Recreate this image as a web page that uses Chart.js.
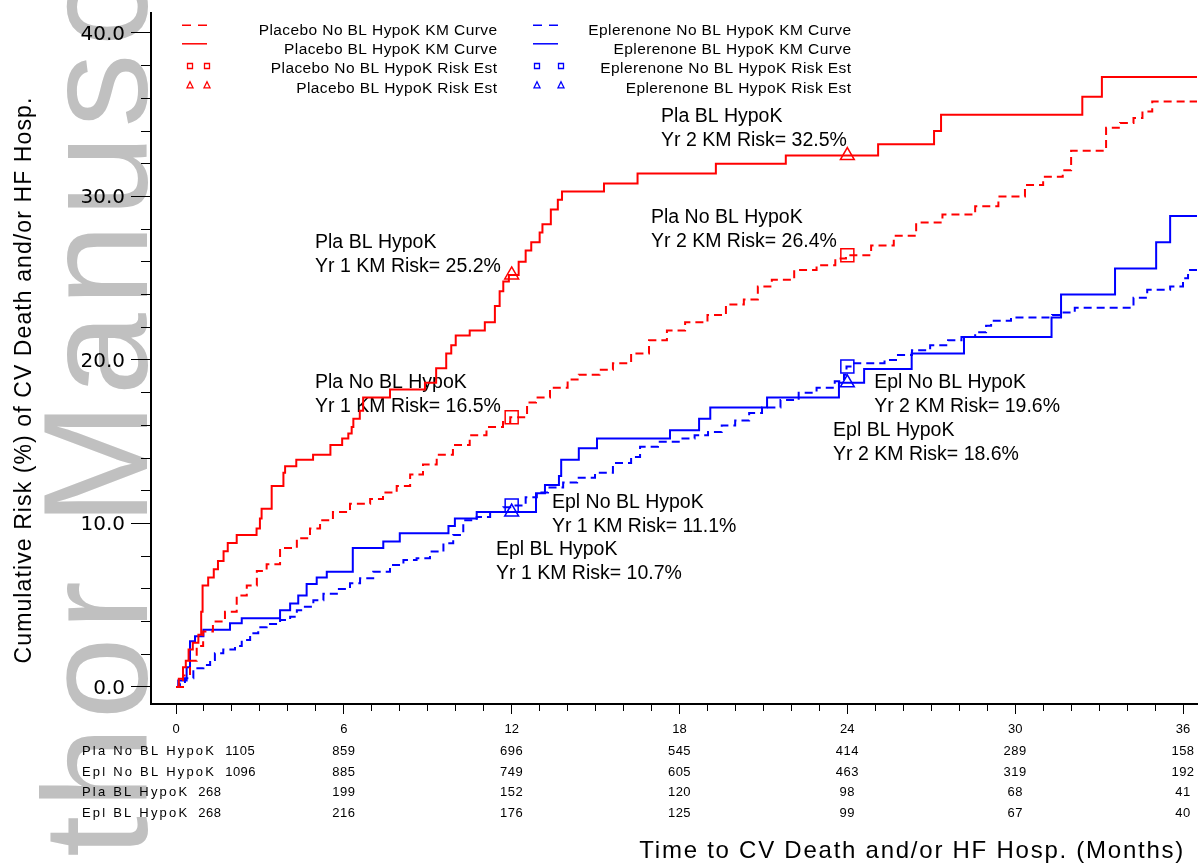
<!DOCTYPE html>
<html><head><meta charset="utf-8">
<script src="https://cdn.jsdelivr.net/npm/chart.js@4/dist/chart.umd.min.js"></script>
<style>html,body{margin:0;padding:0;background:#fff;overflow:hidden}canvas{display:block}</style>
</head><body>
<canvas id="c" width="1198" height="864"></canvas>
<script>
// ---------------- DATA ----------------
const plaNoMonths = [0,0.25,0.5,0.74,0.97,1.32,1.75,2.17,2.53,2.89,3.24,3.72,4.32,4.79,5.15,5.61,6.22,6.94,7.4,7.89,8.37,8.83,9.32,9.9,10.5,11.1,11.69,11.95,12.55,12.87,13.37,14.0,14.4,15.14,15.62,16.27,16.91,17.55,18.2,19.0,19.66,20.3,20.8,21.3,22.1,22.9,23.57,23.95,24.85,25.66,26.46,27.4,28.57,29.4,30.35,31.0,31.7,32.0,33.25,33.75,34.23,34.55,34.9,36.5];
const plaNoRisk   = [0,0.7,1.6,2.5,3.4,4.0,4.6,5.6,6.2,7.1,7.5,8.5,9.1,9.7,10.2,10.7,11.2,11.5,11.9,12.3,13.0,13.6,14.2,14.8,15.4,15.9,16.2,16.5,17.4,17.7,18.3,18.8,19.1,19.4,19.8,20.4,21.2,21.8,22.3,22.75,23.4,23.7,24.5,24.9,25.5,25.8,26.2,26.4,27.0,27.6,28.4,28.9,29.4,30.0,30.7,31.2,31.6,32.8,34.2,34.5,34.8,35.2,35.8,35.8];

const plaBLMonths = [0,0.1,0.25,0.35,0.45,0.6,0.8,0.9,0.95,1.15,1.35,1.5,1.7,1.85,2.17,2.88,3.0,3.06,3.42,3.84,3.9,4.3,4.9,5.52,5.94,6.16,6.28,6.34,6.57,6.69,7.65,8.9,9.3,9.66,9.84,10.0,10.5,11.04,11.4,11.57,11.7,11.9,12.25,12.5,12.7,13.0,13.1,13.4,13.65,13.8,15.3,16.5,19.3,21.8,25.1,27.1,27.35,32.4,33.1,36.5];
const plaBLRisk   = [0,0.5,1.2,1.6,2.3,2.7,3.2,4.6,6.2,6.7,7.2,7.7,8.3,8.8,9.3,9.7,10.3,10.9,12.3,13.1,13.5,13.9,14.2,14.8,15.2,15.5,15.9,16.4,16.9,17.7,18.2,18.6,19.5,20.4,20.9,21.5,21.8,22.3,23.3,24.2,24.8,25.2,26.0,26.7,27.2,27.8,28.3,29.2,29.8,30.3,30.8,31.4,32.0,32.5,33.2,34.0,35.0,36.1,37.3,37.3];

const eplNoMonths = [0,0.14,0.32,0.62,0.98,1.22,1.39,1.69,2.11,2.35,2.65,2.94,3.24,3.72,4.08,4.32,4.55,4.91,5.27,5.75,6.22,6.58,7.05,7.65,8.13,8.6,9.08,9.56,9.91,10.27,10.75,11.23,11.7,11.95,12.5,12.9,13.3,13.84,14.34,14.98,15.62,16.27,16.59,17.23,18.06,18.54,19.02,19.51,19.99,20.49,20.95,21.61,22.26,22.9,23.55,23.88,23.97,24.2,25.33,25.81,26.31,26.96,27.6,28.08,28.57,28.96,29.14,29.85,31.32,31.64,32.13,34.23,34.72,35.54,36.0,36.18,36.5];
const eplNoRisk   = [0,0.23,0.53,1.14,1.35,1.65,2.07,2.3,2.5,2.87,3.28,3.65,3.85,4.1,4.3,4.7,4.9,5.3,5.7,6.0,6.34,6.65,7.05,7.46,7.77,7.87,8.28,8.79,9.3,10.2,10.4,10.7,11.0,11.1,11.6,11.9,12.2,12.5,12.8,13.1,13.7,14.07,14.7,15.0,15.2,15.4,15.6,16.0,16.3,16.75,17.1,17.55,18.0,18.3,18.7,19.1,19.6,19.8,20.0,20.3,20.6,20.9,21.2,21.4,21.7,22.1,22.4,22.6,22.75,22.9,23.2,23.8,24.3,24.5,25.0,25.5,25.5];

const eplBLMonths = [0,0.08,0.38,0.5,0.68,0.98,1.93,2.35,3.72,4.08,4.37,4.67,5.03,5.39,6.32,7.41,8.0,9.74,9.97,10.75,12.87,13.19,13.69,13.77,14.4,15.05,17.66,18.7,19.1,21.13,23.7,24.6,26.3,28.17,31.3,31.64,33.57,35.04,35.54,36.5];
const eplBLRisk   = [0,0.4,1.2,2.8,3.1,3.5,3.9,4.2,4.7,5.1,5.6,6.3,6.7,7.05,8.5,8.9,9.4,9.85,10.3,10.7,11.85,12.35,12.9,13.9,14.6,15.2,15.7,16.4,17.1,17.7,18.6,19.45,20.4,21.4,22.6,24.0,25.6,27.2,28.8,28.8];

const riskEstMonths = [12, 24];
const plaNoRiskEst = [16.5, 26.4];
const plaBLRiskEst = [25.2, 32.5];
const eplNoRiskEst = [11.1, 19.6];
const eplBLRiskEst = [10.7, 18.6];

const seriesLabels = [
  'Placebo No BL HypoK KM Curve','Placebo BL HypoK KM Curve',
  'Placebo No BL HypoK Risk Est','Placebo BL HypoK Risk Est',
  'Eplerenone No BL HypoK KM Curve','Eplerenone BL HypoK KM Curve',
  'Eplerenone No BL HypoK Risk Est','Eplerenone BL HypoK Risk Est'
];

const atRiskMonths = [0, 6, 12, 18, 24, 30, 36];
const atRiskLabels = ['Pla No BL HypoK', 'Epl No BL HypoK', 'Pla BL HypoK', 'Epl BL HypoK'];
const atRiskPlaNo = [1105, 859, 696, 545, 414, 289, 158];
const atRiskEplNo = [1096, 885, 749, 605, 463, 319, 192];
const atRiskPlaBL = [268, 199, 152, 120, 98, 68, 41];
const atRiskEplBL = [268, 216, 176, 125, 99, 67, 40];

const annotGroups = ['Pla BL HypoK','Pla No BL HypoK','Pla BL HypoK','Pla No BL HypoK','Epl No BL HypoK','Epl BL HypoK','Epl No BL HypoK','Epl BL HypoK'];
const annotYears  = [1, 1, 2, 2, 2, 2, 1, 1];
const annotValues = ['25.2','16.5','32.5','26.4','19.6','18.6','11.1','10.7'];

const yAxisTitle = 'Cumulative Risk (%) of CV Death and/or HF Hosp.';
const xAxisTitle = 'Time to CV Death and/or HF Hosp. (Months)';
const watermarkText = 'Author Manuscript';

// ---------------- STYLE / LAYOUT ----------------
const RED = '#ff0000', BLUE = '#0000ff';
const FONT = "'Liberation Sans', Arial, Helvetica, sans-serif";
const X_MIN = -0.894, X_MAX = 36.536, Y_MIN = -1.04, Y_MAX = 41.22;
const annotPos = [[4.97,27.16],[4.97,18.59],[17.34,34.86],[16.98,28.69],[24.96,18.59],[23.49,15.66],[13.44,11.25],[11.44,8.38]];

function pts(xs, ys){ return xs.map((x,i)=>({x:x, y:ys[i]})); }
function setLS(ctx, px){ if ('letterSpacing' in ctx) ctx.letterSpacing = px + 'px'; }

const lineDS = (label, xs, ys, color, dashed) => ({
  label, data: pts(xs, ys), borderColor: color, backgroundColor: color,
  borderWidth: 2, borderDash: dashed ? [8,5] : [], stepped: 'before',
  pointRadius: 0, fill: false, tension: 0
});
const estDS = (label, ys, color, style) => ({
  label, data: pts(riskEstMonths, ys), showLine: false,
  pointStyle: style, pointRadius: style === 'rect' ? 9.2 : 8,
  pointBorderColor: color, pointBackgroundColor: 'rgba(0,0,0,0)', pointBorderWidth: 1.5,
  borderColor: color
});

const datasets = [
  lineDS(seriesLabels[0], plaNoMonths, plaNoRisk, RED, true),
  lineDS(seriesLabels[1], plaBLMonths, plaBLRisk, RED, false),
  estDS(seriesLabels[2], plaNoRiskEst, RED, 'rect'),
  estDS(seriesLabels[3], plaBLRiskEst, RED, 'triangle'),
  lineDS(seriesLabels[4], eplNoMonths, eplNoRisk, BLUE, true),
  lineDS(seriesLabels[5], eplBLMonths, eplBLRisk, BLUE, false),
  estDS(seriesLabels[6], eplNoRiskEst, BLUE, 'rect'),
  estDS(seriesLabels[7], eplBLRiskEst, BLUE, 'triangle')
];

// ---------------- PLUGINS ----------------
const bgPlugin = {
  id: 'bg',
  beforeDraw(chart){
    const ctx = chart.ctx;
    ctx.save();
    ctx.fillStyle = '#fff'; ctx.fillRect(0,0,chart.width,chart.height);
    ctx.translate(147, 1052); ctx.rotate(-Math.PI/2);
    ctx.font = '148px ' + FONT; setLS(ctx, 7);
    ctx.fillStyle = '#c0c0c0'; ctx.textAlign = 'left'; ctx.textBaseline = 'alphabetic';
    ctx.fillText(watermarkText, 0, 0);
    ctx.restore();
  }
};

const annotPlugin = {
  id: 'annot',
  beforeDatasetsDraw(chart){
    const ctx = chart.ctx, xs = chart.scales.x, ys = chart.scales.y;
    ctx.save();
    ctx.font = '19.5px ' + FONT; ctx.fillStyle = '#000';
    ctx.textAlign = 'left'; ctx.textBaseline = 'middle';
    annotGroups.forEach((g,i)=>{
      const px = xs.getPixelForValue(annotPos[i][0]);
      const py = ys.getPixelForValue(annotPos[i][1]);
      ctx.fillText(g, px, py);
      ctx.fillText('Yr ' + annotYears[i] + ' KM Risk= ' + annotValues[i] + '%', px, py + 24);
    });
    ctx.restore();
  }
};

function drawMarker(ctx, kind, x, y, color){
  ctx.strokeStyle = color; ctx.lineWidth = 1.3; ctx.setLineDash([]);
  ctx.beginPath();
  if (kind === 'rect') { ctx.rect(x-2.5, y-2.5, 5, 5); }
  else { ctx.moveTo(x, y-3.5); ctx.lineTo(x+3, y+2.5); ctx.lineTo(x-3, y+2.5); ctx.closePath(); }
  ctx.stroke();
}

const overlayPlugin = {
  id: 'overlay',
  afterDraw(chart){
    const ctx = chart.ctx, xs = chart.scales.x;
    ctx.save();
    const cols = [
      {s0:182, s1:207, m:[190,207], tr:497},
      {s0:533, s1:558, m:[537,561], tr:851}
    ];
    const rowY = [30.7, 49.3, 69, 88.3];
    chart.data.datasets.forEach((ds, i) => {
      const c = cols[i < 4 ? 0 : 1], r = i % 4, y = rowY[r];
      const color = ds.borderColor;
      if (r < 2) {
        ctx.strokeStyle = color; ctx.lineWidth = 1.5;
        ctx.setLineDash(r === 0 ? [9,7] : []);
        ctx.beginPath(); ctx.moveTo(c.s0, y-5.5); ctx.lineTo(c.s1, y-5.5); ctx.stroke();
        ctx.setLineDash([]);
      } else {
        c.m.forEach(mx => drawMarker(ctx, r === 2 ? 'rect' : 'tri', mx, y-3, color));
      }
      ctx.fillStyle = '#000'; ctx.font = '15.5px ' + FONT; setLS(ctx, 0.4);
      ctx.textAlign = 'right'; ctx.textBaseline = 'middle';
      ctx.fillText(ds.label, c.tr + 0.4, y);
      setLS(ctx, 0);
    });
    ctx.fillStyle = '#000';
    ctx.save();
    ctx.translate(31, 380); ctx.rotate(-Math.PI/2);
    ctx.font = '23px ' + FONT; setLS(ctx, 1.1);
    ctx.textAlign = 'center'; ctx.textBaseline = 'alphabetic';
    ctx.fillText(yAxisTitle, 0, 0);
    ctx.restore();
    ctx.font = '24px ' + FONT; setLS(ctx, 1.75);
    ctx.textAlign = 'right'; ctx.textBaseline = 'middle';
    ctx.fillText(xAxisTitle, 1185, 851);
    setLS(ctx, 0);
    const rows = [atRiskPlaNo, atRiskEplNo, atRiskPlaBL, atRiskEplBL];
    const tY = [751, 772, 792.5, 813];
    ctx.font = '13px ' + FONT; ctx.textBaseline = 'middle';
    rows.forEach((vals, r) => {
      setLS(ctx, 2.2); ctx.textAlign = 'left';
      ctx.fillText(atRiskLabels[r], 82, tY[r]);
      const w = ctx.measureText(atRiskLabels[r]).width;
      setLS(ctx, 0.5);
      ctx.fillText(String(vals[0]), 82 + w + 9, tY[r]);
      ctx.textAlign = 'center';
      for (let k = 1; k < atRiskMonths.length; k++) {
        ctx.fillText(String(vals[k]), xs.getPixelForValue(atRiskMonths[k]), tY[r]);
      }
    });
    setLS(ctx, 0);
    ctx.restore();
  }
};

// ---------------- CHART ----------------
new Chart(document.getElementById('c'), {
  type: 'line',
  data: { datasets },
  options: {
    responsive: false, animation: false, devicePixelRatio: 1,
    layout: { autoPadding: false, padding: { top: 13, right: 0, left: 0, bottom: 0 } },
    plugins: { legend: { display: false }, tooltip: { enabled: false }, title: { display: false } },
    scales: {
      x: {
        type: 'linear', min: X_MIN, max: X_MAX,
        afterFit(s){ s.height = 160; s.paddingLeft = 0; s.paddingRight = 0; },
        border: { display: true, color: '#000', width: 2 },
        grid: {
          drawOnChartArea: false, drawTicks: true, tickLength: 10, tickColor: '#000', tickWidth: 1,
          tickBorderDash: c => (c.tick && c.tick.value % 6 === 0) ? [] : [6, 30]
        },
        ticks: {
          stepSize: 1, autoSkip: false, maxRotation: 0, minRotation: 0, includeBounds: false,
          maxTicksLimit: 200, color: '#000', padding: 8, font: { family: FONT, size: 13 },
          callback: v => (v % 6 === 0 ? String(v) : '')
        }
      },
      y: {
        type: 'linear', min: Y_MIN, max: Y_MAX,
        afterFit(s){ s.width = 151; s.paddingTop = 0; s.paddingBottom = 0; },
        border: { display: true, color: '#000', width: 2 },
        grid: {
          drawOnChartArea: false, drawTicks: true, tickLength: 20, tickColor: '#000', tickWidth: 1,
          tickBorderDash: c => (c.tick && c.tick.value % 10 === 0) ? [] : [10, 10],
          tickBorderDashOffset: c => (c.tick && c.tick.value % 10 === 0) ? 0 : 10
        },
        ticks: {
          stepSize: 2, autoSkip: false, includeBounds: false, maxTicksLimit: 200, labelOffset: 1.5,
          color: '#000', padding: 6, font: { family: "'DejaVu Sans', sans-serif", size: 20 },
          callback: v => (v % 10 === 0 ? v.toFixed(1) : '')
        }
      }
    }
  },
  plugins: [bgPlugin, annotPlugin, overlayPlugin]
});
</script>
</body></html>
